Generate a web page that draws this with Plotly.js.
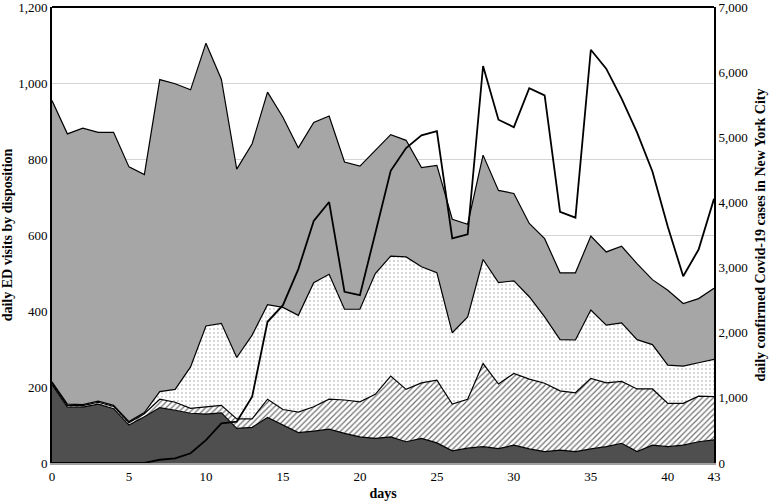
<!DOCTYPE html>
<html>
<head>
<meta charset="utf-8">
<script src="https://cdn.plot.ly/plotly-3.0.1.min.js"></script>
<style>
  html, body { margin: 0; padding: 0; background: #fff; }
  #chart { width: 770px; height: 503px; }
</style>
</head>
<body>
<div id="chart"></div>
<script>
// days since start
const days = Array.from({ length: 44 }, (_, i) => i);

// ED visits by disposition (each layer on its own, stacked bottom to top)
const darkLayer = [207, 147, 147, 155, 143, 100, 122, 146, 139, 131, 129, 132, 91, 94, 120, 100, 80, 84, 89, 78,
    69, 65, 69, 56, 65, 53, 32, 39, 43, 38, 47, 37, 30, 34, 30, 37, 43, 52, 30, 47, 43, 47, 56, 61];
const hatchLayer = [4, 5, 4, 5, 6, 6, 8, 22, 21, 13, 19, 20, 25, 22, 48, 41, 54, 64, 79, 88,
    92, 116, 160, 138, 146, 165, 123, 129, 219, 170, 189, 184, 180, 156, 155, 186, 168, 163, 165, 148, 114, 110, 120, 114];
const dotLayer = [3, 3, 3, 3, 3, 3, 3, 20, 34, 109, 213, 216, 162, 221, 249, 269, 255, 327, 329, 239,
    244, 318, 316, 349, 306, 283, 188, 217, 274, 267, 244, 217, 175, 135, 139, 180, 152, 154, 130, 117, 101, 98, 88, 98];
const grayLayer = [741, 712, 728, 708, 719, 671, 627, 822, 805, 730, 745, 643, 496, 504, 560, 501, 441, 422, 417, 388,
    377, 325, 320, 307, 261, 283, 299, 244, 275, 243, 230, 193, 206, 176, 177, 195, 193, 202, 200, 171, 197, 165, 169, 187];

// daily confirmed Covid-19 cases in New York City
const covidCases = [0, 0, 0, 0, 0, 0, 0, 50, 70, 150, 350, 610, 635, 1020, 2170, 2425, 2980, 3720, 4010, 2630,
    2580, 3530, 4490, 4840, 5035, 5100, 3450, 3515, 6100, 5275, 5160, 5760, 5650, 3860, 3770, 6350, 6060, 5600, 5080, 4480,
    3630, 2870, 3280, 4060];

// tick labels
const xTicks = [0, 5, 10, 15, 20, 25, 30, 35, 40, 43];
const leftTicks = [0, 200, 400, 600, 800, 1000, 1200];
const rightTicks = [0, 1000, 2000, 3000, 4000, 5000, 6000, 7000];

const edge = { color: '#000', width: 1.2 };
const serif = 'Liberation Serif, Times New Roman, serif';
const fmt = v => v.toLocaleString('en-US');
// a hair of headroom so the top tick labels are kept
const pad = 1.001;

const traces = [
    {
        x: days, y: darkLayer, type: 'scatter', mode: 'lines', stackgroup: 'ed',
        line: edge, fillcolor: '#4f4f4f'
    },
    {
        x: days, y: hatchLayer, type: 'scatter', mode: 'lines', stackgroup: 'ed',
        line: edge, fillcolor: '#ffffff',
        fillpattern: { shape: '/', fgcolor: '#707070', bgcolor: '#ffffff', size: 4, solidity: 0.3 }
    },
    {
        x: days, y: dotLayer, type: 'scatter', mode: 'lines', stackgroup: 'ed',
        line: edge, fillcolor: '#ffffff',
        fillpattern: { shape: '.', fgcolor: '#a0a0a0', bgcolor: '#ffffff', size: 4, solidity: 0.12 }
    },
    {
        x: days, y: grayLayer, type: 'scatter', mode: 'lines', stackgroup: 'ed',
        line: edge, fillcolor: '#a6a6a6'
    },
    {
        x: days, y: covidCases, type: 'scatter', mode: 'lines', yaxis: 'y2',
        line: { color: '#000', width: 1.8 }
    }
];

const layout = {
    width: 770,
    height: 503,
    margin: { l: 52, r: 56, t: 7, b: 40 },
    paper_bgcolor: '#fff',
    plot_bgcolor: '#fff',
    showlegend: false,
    font: { family: serif, size: 13, color: '#000' },
    xaxis: {
        range: [0, 43],
        tickvals: xTicks,
        ticktext: xTicks.map(String),
        showgrid: false,
        zeroline: false,
        showline: true,
        linecolor: '#a0a0a0',
        linewidth: 2,
        ticks: '',
        tickfont: { family: serif, size: 13 },
        title: { text: '<b>days</b>', font: { family: serif, size: 14 }, standoff: 6 }
    },
    yaxis: {
        range: [0, 1200 * pad],
        tickvals: leftTicks,
        ticktext: leftTicks.map(fmt),
        showgrid: true,
        gridcolor: '#d4d4d4',
        gridwidth: 1,
        zeroline: false,
        showline: true,
        linecolor: '#000',
        linewidth: 2,
        ticks: '',
        tickfont: { family: serif, size: 13 },
        title: { text: '<b>daily ED visits by disposition</b>', font: { family: serif, size: 14 }, standoff: 8 }
    },
    yaxis2: {
        overlaying: 'y',
        side: 'right',
        range: [0, 7000 * pad],
        tickvals: rightTicks,
        ticktext: rightTicks.map(fmt),
        showgrid: false,
        zeroline: false,
        showline: true,
        linecolor: '#000',
        linewidth: 2,
        ticks: '',
        tickfont: { family: serif, size: 13 },
        title: { text: '<b>daily confirmed Covid-19 cases in New York City</b>', font: { family: serif, size: 14 }, standoff: 8 }
    },
    shapes: [
        { type: 'line', xref: 'paper', yref: 'paper', x0: 0, x1: 1, y0: 1, y1: 1, line: { color: '#000', width: 2 } }
    ]
};

Plotly.newPlot('chart', traces, layout, { displayModeBar: false, staticPlot: true });
</script>
</body>
</html>
